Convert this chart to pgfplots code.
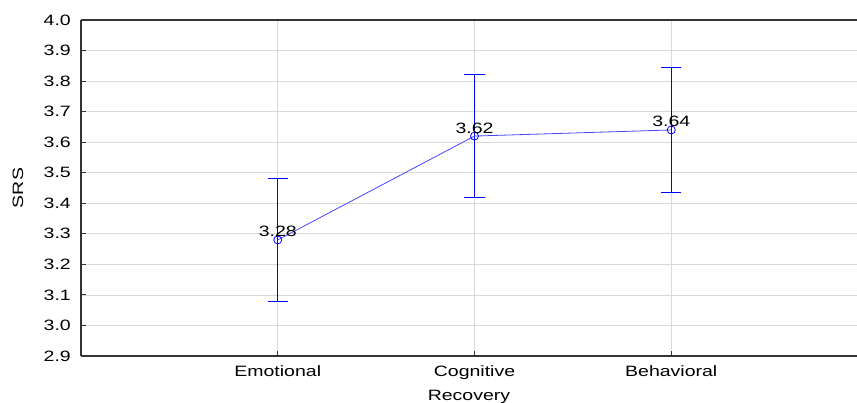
\documentclass[border=0pt]{standalone}
\usepackage{fontspec}
\setmainfont{Liberation Sans}[FakeStretch=1.3]
\usepackage{pgfplots}
\pgfplotsset{compat=1.18}
\definecolor{eb}{RGB}{0,0,255}
\definecolor{ln}{RGB}{70,70,255}
\begin{document}
\begin{tikzpicture}[font=\fontsize{15pt}{18pt}\selectfont]
\begin{axis}[
  scale only axis, width=776pt, height=336pt,
  xmin=-1, xmax=2.944, ymin=2.9, ymax=4.0,
  xtick={0,1,2}, xticklabels={Emotional,Cognitive,Behavioral},
  ytick={2.9,3.0,3.1,3.2,3.3,3.4,3.5,3.6,3.7,3.8,3.9,4.0},
  yticklabel style={/pgf/number format/fixed, /pgf/number format/fixed zerofill, /pgf/number format/precision=1},
  /pgf/number format/assume math mode=true,
  separate axis lines,
  axis x line=box, axis y line=left,
  xtick pos=left, ytick pos=left,
  tick align=inside, major tick length=5pt,
  grid=major, major grid style={black!15, line width=0.8pt},
  axis line style={black!80, line width=1.2pt, -},
  tick style={black!80, line width=0.9pt},
  xticklabel style={anchor=base, inner sep=0pt, yshift=-21pt},
  yticklabel style={anchor=east, inner sep=0pt, xshift=-10pt},
  xlabel=Recovery, ylabel=SRS,
  xlabel style={at={(axis description cs:0.5,0)}, anchor=base, inner sep=0pt, yshift=-45pt},
  ylabel style={at={(axis description cs:-0.0812,0.5)}, anchor=center, inner sep=0pt},
  unbounded coords=jump,
]
% confidence intervals: vertical bars and caps, one path
\addplot[draw=eb, line width=1pt, mark=none] coordinates {
  (0,3.08) (0,3.48) (nan,nan)
  (-0.051,3.08) (0.051,3.08) (nan,nan)
  (-0.051,3.48) (0.051,3.48) (nan,nan)
  (1,3.42) (1,3.82) (nan,nan)
  (0.949,3.42) (1.051,3.42) (nan,nan)
  (0.949,3.82) (1.051,3.82) (nan,nan)
  (2,3.435) (2,3.845) (nan,nan)
  (1.949,3.435) (2.051,3.435) (nan,nan)
  (1.949,3.845) (2.051,3.845)
};
% means
\addplot[draw=ln, line width=0.8pt, mark=o, mark size=4pt,
  mark options={draw=eb, line width=0.8pt}]
  coordinates {(0,3.28) (1,3.62) (2,3.64)};
\addplot[draw=none, mark=none, nodes near coords,
  nodes near coords style={anchor=base, inner sep=0pt, yshift=3pt,
    /pgf/number format/fixed, /pgf/number format/fixed zerofill, /pgf/number format/precision=2}]
  coordinates {(0,3.28) (1,3.62) (2,3.64)};
\end{axis}
\pgfresetboundingbox
\path[use as bounding box] ([xshift=-81pt,yshift=-47pt]current axis.south west) rectangle ([yshift=20pt]current axis.north east);
\end{tikzpicture}
\end{document}
